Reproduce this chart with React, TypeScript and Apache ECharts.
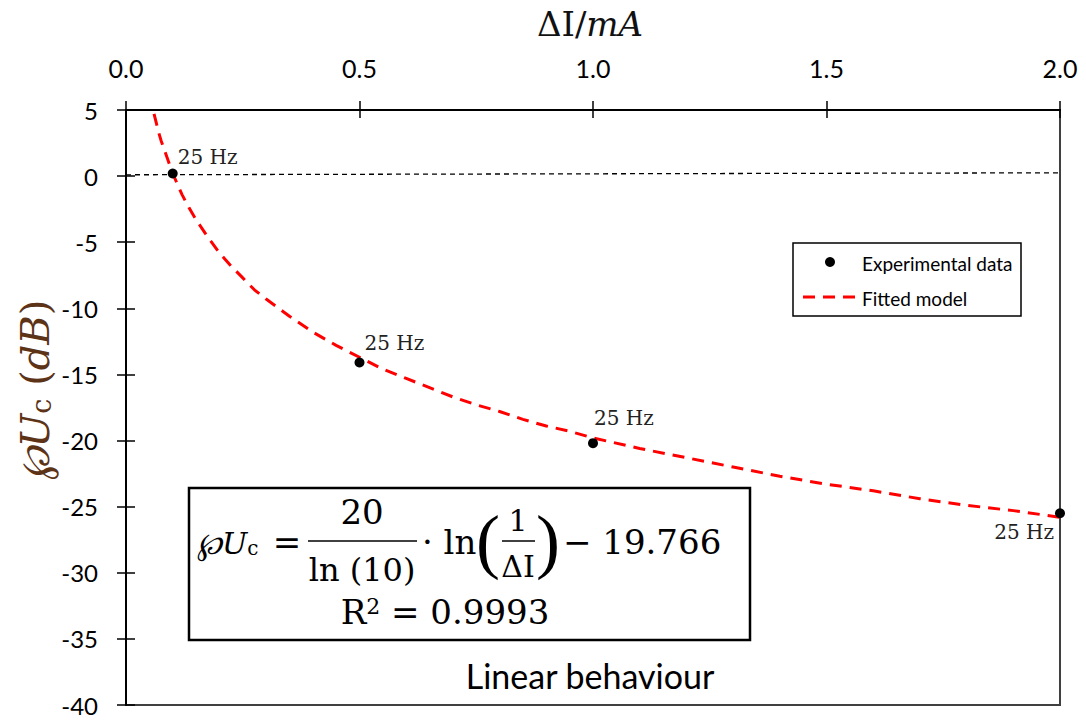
import React, { useEffect, useRef } from "react";
import * as echarts from "echarts";

const expX = [0.1, 0.5, 1.0, 2.0];
const expY = [0.2, -14.1, -20.2, -25.5];
const pointLabels = ["25 Hz", "25 Hz", "25 Hz", "25 Hz"];
const fitX = [0.06, 0.065, 0.07, 0.075, 0.08, 0.09, 0.1, 0.11, 0.12, 0.135, 0.15, 0.175, 0.2, 0.225, 0.25, 0.275, 0.3, 0.35, 0.4, 0.45, 0.5, 0.55, 0.6, 0.65, 0.7, 0.75, 0.8, 0.85, 0.9, 0.95, 1.0, 1.1, 1.2, 1.3, 1.4, 1.5, 1.6, 1.7, 1.8, 1.9, 2.0];
const fitY = [4.7, 4.0, 3.3, 2.7, 2.2, 1.2, 0.2, -0.6, -1.4, -2.4, -3.3, -4.6, -5.8, -6.8, -7.7, -8.6, -9.3, -10.6, -11.8, -12.8, -13.7, -14.6, -15.3, -16.0, -16.7, -17.3, -17.8, -18.4, -18.9, -19.3, -19.8, -20.6, -21.3, -22.0, -22.7, -23.3, -23.8, -24.4, -24.9, -25.3, -25.8];
const refLineX = [0, 2.0];
const refLineY = [0.1, 0.25];
const legendNames = ["Experimental data", "Fitted model"];

const labelPos: [number, number][] = [[10, -11], [10, -15], [6, -20], [-1, 24]];
const labelAlign = ["left", "left", "left", "right"];

const SERIF = "DejaVu Serif";
const SANS = "Lato";
const EQ = 34;

export default function App() {
  const ref = useRef<HTMLDivElement>(null);
  useEffect(() => {
    if (!ref.current) return;
    const chart = echarts.init(ref.current, undefined, { renderer: "svg" });
    const grid = { left: 126, top: 110, right: 26, bottom: 17 };
    const txt = (x: number, y: number, text: string, size: number, align = "center", extra: any = {}) => ({
      type: "text", x, y, z: 11,
      style: { text, fontFamily: SERIF, fontSize: size, fill: "#000", textAlign: align, textVerticalAlign: "middle", ...extra },
    });
    const option: any = {
      animation: false,
      backgroundColor: "#fff",
      grid: { ...grid, show: true, borderColor: "#404040", borderWidth: 2, backgroundColor: "transparent" },
      xAxis: [
        {
          type: "value", position: "top", min: 0, max: 2, interval: 0.5,
          axisLine: { show: true, onZero: false, lineStyle: { color: "#000", width: 2 } },
          axisTick: { show: true, inside: false, length: 9, lineStyle: { color: "#000", width: 1.5 } },
          axisLabel: { color: "#000", fontSize: 25, fontFamily: SANS, margin: 30, formatter: (v: number) => v.toFixed(1) },
          splitLine: { show: false },
        },
        {
          type: "value", position: "top", min: 0, max: 2, interval: 0.5,
          axisLine: { show: false, onZero: false },
          axisTick: { show: true, inside: true, length: 8, lineStyle: { color: "#000", width: 1.5 } },
          axisLabel: { show: false }, splitLine: { show: false },
        },
      ],
      yAxis: [
        {
          type: "value", min: -40, max: 5, interval: 5,
          axisLine: { show: true, onZero: false, lineStyle: { color: "#000", width: 2 } },
          axisTick: { show: true, inside: false, length: 9, lineStyle: { color: "#000", width: 1.5 } },
          axisLabel: { color: "#000", fontSize: 24, fontFamily: SANS, margin: 28 },
          splitLine: { show: false },
        },
        {
          type: "value", min: -40, max: 5, interval: 5, position: "left",
          axisLine: { show: false, onZero: false },
          axisTick: { show: true, inside: true, length: 9, lineStyle: { color: "#000", width: 1.5 } },
          axisLabel: { show: false }, splitLine: { show: false },
        },
      ],
      series: [
        {
          name: "ref", type: "line", xAxisIndex: 0, yAxisIndex: 0,
          data: refLineX.map((x, i) => [x, refLineY[i]]),
          symbol: "none", silent: true,
          lineStyle: { color: "#000", width: 1.3, type: [5, 4] },
          z: 1,
        },
        {
          name: legendNames[1], type: "line", xAxisIndex: 0, yAxisIndex: 0,
          data: fitX.map((x, i) => [x, fitY[i]]),
          symbol: "none", smooth: false,
          lineStyle: { color: "#ff0000", width: 3, type: [12, 8] },
          itemStyle: { color: "#ff0000" },
          z: 2,
        },
        {
          name: legendNames[0], type: "scatter", xAxisIndex: 0, yAxisIndex: 0,
          symbol: "circle", symbolSize: 10,
          itemStyle: { color: "#000", opacity: 1 },
          data: expX.map((x, i) => ({
            value: [x, expY[i]],
            label: {
              show: true, formatter: pointLabels[i], position: labelPos[i],
              align: labelAlign[i], verticalAlign: "middle",
              fontFamily: SERIF, fontSize: 20, color: "#222",
            },
          })),
          z: 3,
        },
      ],
      graphic: [
        {
          type: "text", x: 590, y: 24,
          style: {
            text: "{r|ΔI/}{i|mA}", textAlign: "center", textVerticalAlign: "middle",
            rich: {
              r: { fontFamily: SERIF, fontSize: 34, fill: "#111" },
              i: { fontFamily: SERIF, fontSize: 34, fontStyle: "italic", fill: "#111" },
            },
          },
        },
        {
          type: "text", x: 35, y: 390, rotation: Math.PI / 2,
          style: {
            text: "{i|℘U}{s|c}{r| (}{i|dB}{r|)}", textAlign: "center", textVerticalAlign: "middle",
            rich: {
              i: { fontFamily: SERIF, fontSize: 40, fontStyle: "italic", fill: "#5c3317", verticalAlign: "bottom" },
              s: { fontFamily: SERIF, fontSize: 27, fill: "#5c3317", verticalAlign: "bottom" },
              r: { fontFamily: SERIF, fontSize: 40, fill: "#5c3317", verticalAlign: "bottom" },
            },
          },
        },
        // legend
        { type: "rect", shape: { x: 793, y: 243, width: 228, height: 73 }, style: { fill: "#fff", stroke: "#000", lineWidth: 1.5 }, z: 10 },
        { type: "circle", shape: { cx: 830, cy: 262, r: 5 }, style: { fill: "#000" }, z: 11 },
        { type: "line", shape: { x1: 803, y1: 297, x2: 855, y2: 297 }, style: { stroke: "#ff0000", lineWidth: 3, lineDash: [12, 8] }, z: 11 },
        { type: "text", x: 862, y: 263, z: 11, style: { text: legendNames[0], fontFamily: SANS, fontSize: 19, fill: "#000", textAlign: "left", textVerticalAlign: "middle" } },
        { type: "text", x: 862, y: 298, z: 11, style: { text: legendNames[1], fontFamily: SANS, fontSize: 19, fill: "#000", textAlign: "left", textVerticalAlign: "middle" } },
        // equation box
        {
          type: "rect", shape: { x: 189, y: 488, width: 561, height: 152 },
          style: { fill: "#fff", stroke: "#000", lineWidth: 2.5 }, z: 10,
        },
        {
          type: "text", x: 197, y: 543, z: 11,
          style: {
            text: "{i|℘U}{s|c}", textAlign: "left", textVerticalAlign: "middle",
            rich: {
              i: { fontFamily: SERIF, fontSize: 30, fontStyle: "italic", fill: "#000", verticalAlign: "bottom" },
              s: { fontFamily: SERIF, fontSize: 20, fill: "#000", verticalAlign: "bottom" },
            },
          },
        },
        txt(287, 542, "=", EQ),
        txt(362, 512, "20", EQ),
        { type: "line", z: 11, shape: { x1: 308, y1: 541, x2: 417, y2: 541 }, style: { stroke: "#000", lineWidth: 1.5 } },
        txt(362, 570, "ln (10)", 32),
        txt(422, 542, "· ln", EQ, "left"),
        txt(488, 541, "(", 72, "center", { fontFamily: "Liberation Serif" }),
        txt(518, 520, "1", 30),
        { type: "line", z: 11, shape: { x1: 502, y1: 541, x2: 535, y2: 541 }, style: { stroke: "#000", lineWidth: 1.5 } },
        txt(518, 566, "ΔI", 30),
        txt(548, 541, ")", 72, "center", { fontFamily: "Liberation Serif" }),
        txt(563, 542, "− 19.766", EQ, "left"),
        {
          type: "text", x: 445, y: 612, z: 11,
          style: {
            text: "{r|R}{p|2}{r| = 0.9993}", textAlign: "center", textVerticalAlign: "middle",
            rich: {
              r: { fontFamily: SERIF, fontSize: EQ, fill: "#000", verticalAlign: "top" },
              p: { fontFamily: SERIF, fontSize: 22, fill: "#000", verticalAlign: "top" },
            },
          },
        },
        { type: "text", x: 590, y: 675, z: 11, style: { text: "Linear behaviour", fontFamily: SANS, fontSize: 34, fill: "#000", textAlign: "center", textVerticalAlign: "middle" } },
      ],
    };
    chart.setOption(option);
    return () => chart.dispose();
  }, []);
  return <div ref={ref} style={{ width: 1086, height: 722, position: "absolute", left: 0, top: 0 }} />;
}
